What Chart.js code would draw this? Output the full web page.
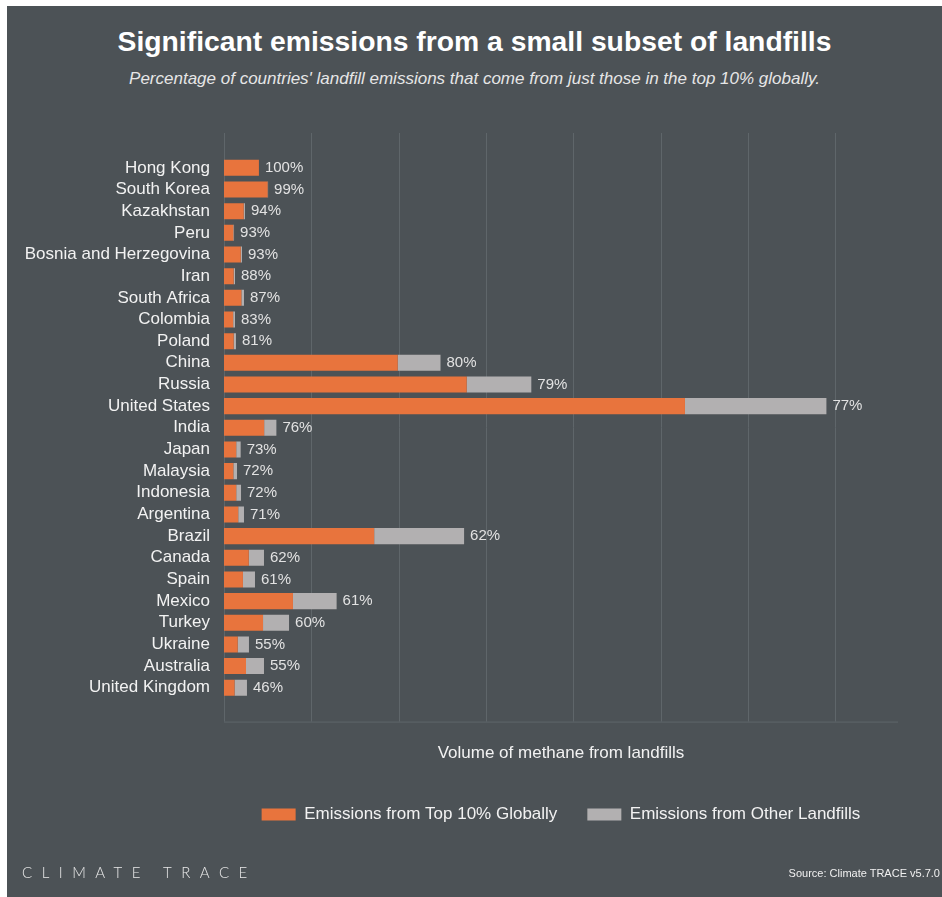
<!DOCTYPE html>
<html>
<head>
<meta charset="utf-8">
<title>Significant emissions from a small subset of landfills</title>
<script src="https://cdn.jsdelivr.net/npm/chart.js@4.4.1/dist/chart.umd.min.js"></script>
<style>
    body { margin: 0; background: #ffffff; font-family: "Liberation Sans", Arial, sans-serif; }
    #panel { position: absolute; left: 7px; top: 6px; width: 935px; height: 891px; background: #4c5256; overflow: hidden; }
    #chartCanvas { position: absolute; left: 0; top: 0; }
    .title { position: absolute; left: 0; width: 935px; text-align: center; color: #ffffff; font-weight: bold; font-size: 28.3px; top: 19px; }
    .subtitle { position: absolute; left: 0; width: 935px; text-align: center; color: #e6e6e6; font-style: italic; font-size: 17px; top: 63px; }
    .brand { position: absolute; left: 15px; top: 857px; color: #e8e8e8; font-family: Lato, sans-serif; font-weight: 300; font-size: 15px; letter-spacing: 9.5px; }
    .source { position: absolute; right: 2px; top: 861px; color: #f0f0f0; font-size: 11px; }
</style>
</head>
<body>
<div id="panel">
    <div class="title">Significant emissions from a small subset of landfills</div>
    <div class="subtitle">Percentage of countries' landfill emissions that come from just those in the top 10% globally.</div>
    <canvas id="chartCanvas" width="935" height="891"></canvas>
    <div class="brand">CLIMATE TRACE</div>
    <div class="source">Source: Climate TRACE v5.7.0</div>
</div>
<script>
// Countries, top to bottom
const countries = ["Hong Kong", "South Korea", "Kazakhstan", "Peru", "Bosnia and Herzegovina", "Iran",
    "South Africa", "Colombia", "Poland", "China", "Russia", "United States", "India", "Japan",
    "Malaysia", "Indonesia", "Argentina", "Brazil", "Canada", "Spain", "Mexico", "Turkey",
    "Ukraine", "Australia", "United Kingdom"];

// Volume of landfill methane (axis has no units)
const top10Emissions = [0.40, 0.50, 0.226, 0.107, 0.192, 0.111, 0.199, 0.105, 0.111, 1.99, 2.78, 5.28, 0.46,
    0.140, 0.107, 0.140, 0.163, 1.72, 0.284, 0.217, 0.79, 0.447, 0.157, 0.252, 0.121];
const otherEmissions = [0, 0.005, 0.014, 0.008, 0.014, 0.015, 0.030, 0.021, 0.026, 0.49, 0.74, 1.62, 0.14,
    0.051, 0.042, 0.055, 0.066, 1.03, 0.174, 0.138, 0.50, 0.298, 0.129, 0.206, 0.142];

// Share from top 10% landfills, printed at the end of each bar
const shareLabels = ["100%", "99%", "94%", "93%", "93%", "88%", "87%", "83%", "81%", "80%", "79%", "77%", "76%",
    "73%", "72%", "72%", "71%", "62%", "62%", "61%", "61%", "60%", "55%", "55%", "46%"];

const axisMax = 7.72;

// Grid lines run a bit past the bar area, plus a baseline under it
const extendedGrid = {
    id: "extendedGrid",
    beforeDatasetsDraw(chart) {
        const ctx = chart.ctx;
        const area = chart.chartArea;
        const x = chart.scales.x;
        const top = area.top - 24;
        const bottom = area.bottom + 23;
        ctx.save();
        ctx.strokeStyle = "#5f666a";
        ctx.lineWidth = 1;
        x.ticks.forEach(t => {
            if (!Number.isInteger(t.value)) return;
            const px = Math.round(x.getPixelForValue(t.value)) + 0.5;
            ctx.beginPath();
            ctx.moveTo(px, top);
            ctx.lineTo(px, bottom);
            ctx.stroke();
        });
        ctx.beginPath();
        ctx.moveTo(x.getPixelForValue(0), bottom + 0.5);
        ctx.lineTo(x.getPixelForValue(axisMax), bottom + 0.5);
        ctx.stroke();
        ctx.restore();
    }
};

// Percentage labels after each stacked bar
const shareText = {
    id: "shareText",
    afterDatasetsDraw(chart) {
        const ctx = chart.ctx;
        const meta = chart.getDatasetMeta(1);
        ctx.save();
        ctx.fillStyle = "#e2e2e2";
        ctx.font = "15px 'Liberation Sans', Arial, sans-serif";
        ctx.textBaseline = "middle";
        ctx.textAlign = "left";
        meta.data.forEach((bar, i) => {
            ctx.fillText(shareLabels[i], bar.x + 6, bar.y);
        });
        ctx.restore();
    }
};

Chart.defaults.font.family = "'Liberation Sans', Arial, sans-serif";
Chart.defaults.color = "#f2f2f2";

new Chart(document.getElementById("chartCanvas"), {
    type: "bar",
    data: {
        labels: countries,
        datasets: [{
            label: "Emissions from Top 10% Globally",
            data: top10Emissions,
            backgroundColor: "#e8743d",
            borderWidth: 0,
            barPercentage: 0.74,
            categoryPercentage: 1
        }, {
            label: "Emissions from Other Landfills",
            data: otherEmissions,
            backgroundColor: "#b2b0b1",
            borderWidth: 0,
            barPercentage: 0.74,
            categoryPercentage: 1
        }]
    },
    options: {
        indexAxis: "y",
        responsive: false,
        animation: false,
        layout: { padding: { top: 151, right: 44, left: 0, bottom: 64 } },
        scales: {
            x: {
                stacked: true,
                min: 0,
                max: axisMax,
                ticks: { display: false, stepSize: 1 },
                grid: { display: false, drawTicks: false },
                border: { display: false },
                title: {
                    display: true,
                    text: "Volume of methane from landfills",
                    color: "#f2f2f2",
                    font: { size: 17 },
                    padding: { top: 45, bottom: 12 }
                }
            },
            y: {
                stacked: true,
                grid: { display: false, drawTicks: false },
                border: { display: false },
                ticks: { color: "#f2f2f2", font: { size: 17 }, padding: 14, autoSkip: false },
                afterFit(scale) { scale.width = 217; }
            }
        },
        plugins: {
            legend: {
                position: "bottom",
                fullSize: false,
                labels: {
                    boxWidth: 34,
                    boxHeight: 12,
                    padding: 30,
                    color: "#f2f2f2",
                    font: { size: 17 }
                }
            },
            tooltip: { enabled: false }
        }
    },
    plugins: [extendedGrid, shareText]
});
</script>
</body>
</html>
